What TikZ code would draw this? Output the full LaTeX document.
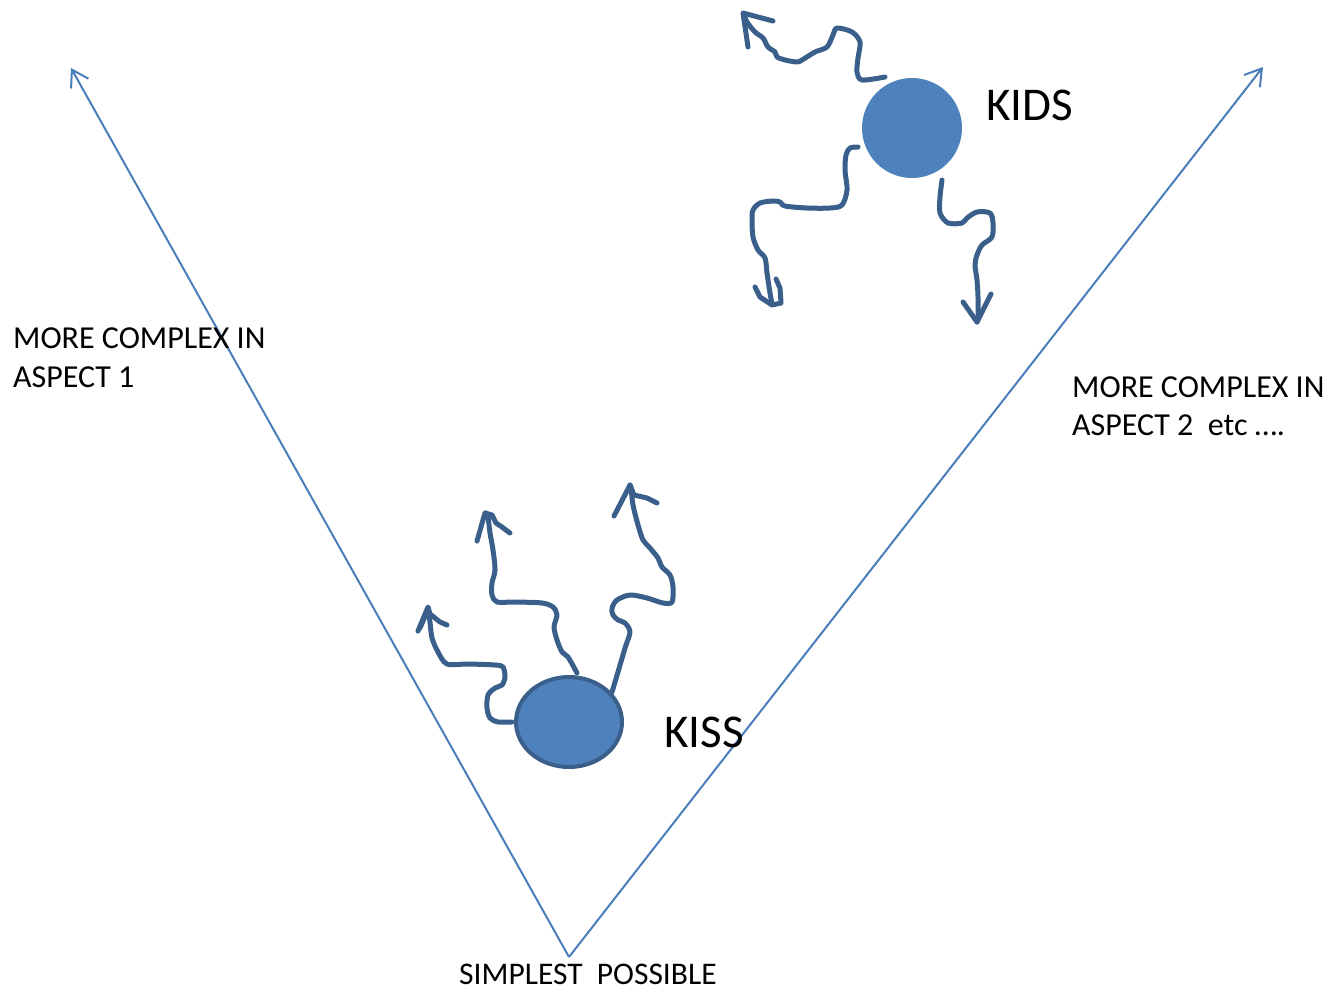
\documentclass[tikz,border=0pt]{standalone}
\usepackage{fontspec}
\setmainfont{Carlito}
\usetikzlibrary{arrows.meta,shapes.geometric}
\definecolor{axisblue}{HTML}{4A7EBB}
\definecolor{ballblue}{HTML}{4F81BD}
\definecolor{squig}{HTML}{3A5F8B}
\begin{document}
\begin{tikzpicture}[x=1pt,y=-1pt,
  axis/.style={draw=axisblue,line width=2pt,-{Straight Barb[length=16pt,width=20pt,line width=2pt]}},
  squiggle/.style={draw=squig,line width=5pt,line cap=round,line join=round},
  lbl/.style={inner sep=0pt,anchor=base west,text=black},
  small/.style={lbl,font=\fontsize{32}{38}\selectfont},
  big/.style={lbl,font=\fontsize{47}{56}\selectfont}]
\useasboundingbox (0,0) rectangle (1332,991);
% axes
\coordinate (apex) at (569,957);
\coordinate (ltip) at (71,68);
\coordinate (rtip) at (1263,67);
\draw[axis] (apex) -- (ltip);
\draw[axis] (apex) -- (rtip);
% balls
\node[circle,fill=ballblue,minimum size=100pt,inner sep=0pt] (kids) at (912,128) {};
\node[ellipse,fill=ballblue,draw=squig,line width=4pt,minimum width=106pt,minimum height=90pt,inner sep=0pt] (kiss) at (569,722) {};
% labels
\node[big] (kidst) at (986,120) {KIDS};
\node[big] (kisst) at (664,747) {KISS};
\node[small] (l1) at (13,348) {MORE COMPLEX IN};
\node[small] (l2) at (13,387) {ASPECT 1};
\node[small] (r1) at (1072,397) {MORE COMPLEX IN};
\node[small] (r2) at (1072,435) {ASPECT 2\ \ etc ….};
\node[small,font=\fontsize{31.5}{38}\selectfont] (s1) at (459,984) {SIMPLEST\ \ POSSIBLE};
% KIDS squiggles
\draw[squiggle] plot[smooth,tension=0.5] coordinates {(885,77) (862,80) (857,72) (858,58) (860,42) (852,32) (837,28) (833,35) (827,47) (815,52) (802,60) (797,62) (785,60) (777,57) (775,52) (768,47) (763,38) (755,32) (747,22) (744,14)};
\draw[squiggle] (748,47) -- (743,13) -- (773,21);
\draw[squiggle] plot[smooth,tension=0.5] coordinates {(858,147) (850,148) (846,155) (845,170) (847,190) (842,205) (830,208) (807,208) (785,206) (780,202) (773,201) (760,203) (753,210) (752,220) (753,237) (758,250) (765,258) (767,273) (770,293) (772,304)};
\draw[squiggle] (755,287) -- (760,297) -- (772,305) -- (781,303) -- (780,288) -- (776,279);
\draw[squiggle] plot[smooth,tension=0.5] coordinates {(942,180) (940,197) (940,213) (948,223) (962,223) (967,218) (977,212) (990,213) (993,223) (992,237) (982,245) (977,255) (975,265) (977,280) (978,297) (978,317) (977,322)};
\draw[squiggle] (963,302) -- (977,322) -- (991,294);
% KISS squiggles
\draw[squiggle] plot[smooth,tension=0.5] coordinates {(512,722) (498,722) (490,718) (487,708) (488,695) (495,688) (502,685) (505,677) (503,667) (495,665) (468,664) (447,664) (438,652) (432,638) (430,622) (428,608)};
\draw[squiggle] (418,631) -- (428,607) -- (430,614) -- (440,622) -- (447,625);
\draw[squiggle] (420,628) -- (426,614);
\draw[squiggle] plot[smooth,tension=0.5] coordinates {(577,673) (568,657) (562,652) (557,640) (554,627) (557,615) (553,607) (542,603) (515,602) (497,602) (492,595) (492,583) (495,570) (493,550) (490,533) (488,517) (486,513)};
\draw[squiggle] (477,541) -- (485,513) -- (492,515) -- (496,523) -- (502,527) -- (510,533);
\draw[squiggle] plot[smooth,tension=0.5] coordinates {(612,692) (618,672) (625,648) (630,632) (625,623) (618,620) (613,615) (612,608) (617,600) (630,595) (647,598) (663,603) (672,602) (673,587) (670,575) (662,567) (658,558) (650,548) (643,540) (638,525) (633,505) (631,488) (630,485)};
\draw[squiggle] (614,516) -- (630,485) -- (634,495) -- (647,498) -- (657,503);
\end{tikzpicture}
\end{document}
